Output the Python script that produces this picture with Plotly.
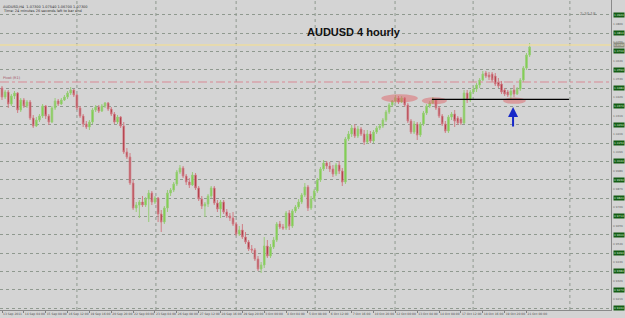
import plotly.graph_objects as go

# ---- data (AUDUSD, H4) ----
open_ = [1.0484,1.0430,1.0460,1.0388,1.0436,1.0454,1.0352,1.0412,1.0376,1.0400,
         1.0304,1.0256,1.0292,1.0316,1.0376,1.0316,1.0280,1.0364,1.0406,1.0388,
         1.0412,1.0430,1.0454,1.0472,1.0442,1.0364,1.0316,1.0268,1.0250,1.0280,
         1.0352,1.0370,1.0346,1.0376,1.0394,1.0358,1.0328,1.0280,1.0310,1.0256,
         1.0100,1.0070,0.9914,0.9764,0.9782,0.9800,0.9782,0.9818,0.9854,0.9800,
         0.9824,0.9728,0.9680,0.9764,0.9854,0.9872,0.9908,0.9980,1.0004,0.9956,
         0.9920,0.9902,0.9962,0.9884,0.9818,0.9776,0.9788,0.9836,0.9884,0.9794,
         0.9758,0.9800,0.9740,0.9716,0.9704,0.9668,0.9608,0.9632,0.9590,0.9560,
         0.9518,0.9512,0.9458,0.9398,0.9422,0.9536,0.9476,0.9530,0.9572,0.9668,
         0.9650,0.9644,0.9734,0.9656,0.9746,0.9770,0.9800,0.9842,0.9890,0.9764,
         0.9818,0.9866,0.9932,0.9998,1.0034,1.0016,0.9998,0.9968,1.0022,0.9986,
         0.9920,1.0178,1.0208,1.0244,1.0196,1.0238,1.0208,1.0160,1.0208,1.0166,
         1.0220,1.0244,1.0256,1.0292,1.0340,1.0382,1.0406,1.0424,1.0400,1.0424,
         1.0382,1.0286,1.0220,1.0268,1.0202,1.0268,1.0334,1.0376,1.0394,1.0412,
         1.0364,1.0316,1.0268,1.0226,1.0310,1.0328,1.0304,1.0298,1.0274,1.0454,
         1.0412,1.0460,1.0478,1.0502,1.0532,1.0574,1.0562,1.0568,1.0556,1.0520,
         1.0508,1.0472,1.0460,1.0442,1.0472,1.0448,1.0478,1.0532,1.0604,1.0682]
high = [1.0496,1.0472,1.0472,1.0448,1.0466,1.0460,1.0424,1.0424,1.0412,1.0412,
        1.0322,1.0310,1.0328,1.0388,1.0382,1.0328,1.0376,1.0424,1.0418,1.0424,
        1.0442,1.0466,1.0490,1.0478,1.0448,1.0376,1.0328,1.0286,1.0292,1.0364,
        1.0382,1.0382,1.0388,1.0400,1.0400,1.0370,1.0340,1.0322,1.0316,1.0280,
        1.0124,1.0094,0.9932,0.9800,0.9812,0.9836,0.9830,0.9872,0.9866,0.9836,
        0.9830,0.9752,0.9776,0.9872,0.9884,0.9920,0.9992,1.0022,1.0016,0.9968,
        0.9944,0.9980,0.9974,0.9896,0.9836,0.9800,0.9848,0.9896,0.9896,0.9812,
        0.9812,0.9812,0.9758,0.9734,0.9740,0.9680,0.9656,0.9668,0.9620,0.9572,
        0.9542,0.9524,0.9476,0.9440,0.9590,0.9572,0.9548,0.9590,0.9680,0.9686,
        0.9668,0.9746,0.9752,0.9758,0.9782,0.9818,0.9854,0.9914,0.9902,0.9836,
        0.9878,0.9944,1.0010,1.0052,1.0046,1.0040,1.0022,1.0034,1.0046,1.0004,
        1.0190,1.0226,1.0262,1.0268,1.0256,1.0250,1.0232,1.0232,1.0226,1.0232,
        1.0256,1.0268,1.0304,1.0352,1.0394,1.0412,1.0442,1.0436,1.0436,1.0430,
        1.0394,1.0298,1.0286,1.0280,1.0280,1.0346,1.0388,1.0406,1.0430,1.0418,
        1.0376,1.0328,1.0286,1.0322,1.0340,1.0352,1.0316,1.0310,1.0472,1.0472,
        1.0472,1.0496,1.0514,1.0544,1.0586,1.0586,1.0580,1.0580,1.0574,1.0544,
        1.0526,1.0484,1.0472,1.0478,1.0502,1.0490,1.0544,1.0616,1.0694,1.0754]
low = [1.0412,1.0418,1.0364,1.0376,1.0418,1.0334,1.0340,1.0364,1.0364,1.0292,
       1.0244,1.0250,1.0280,1.0304,1.0298,1.0262,1.0274,1.0352,1.0376,1.0382,
       1.0406,1.0418,1.0442,1.0430,1.0352,1.0304,1.0250,1.0238,1.0232,1.0268,
       1.0340,1.0334,1.0340,1.0364,1.0346,1.0316,1.0268,1.0268,1.0244,1.0088,
       1.0058,0.9902,0.9752,0.9740,0.9704,0.9770,0.9770,0.9680,0.9782,0.9788,
       0.9680,0.9620,0.9668,0.9740,0.9836,0.9860,0.9896,0.9968,0.9944,0.9902,
       0.9884,0.9896,0.9872,0.9806,0.9758,0.9710,0.9770,0.9824,0.9782,0.9740,
       0.9704,0.9728,0.9704,0.9686,0.9656,0.9596,0.9596,0.9578,0.9548,0.9506,
       0.9494,0.9446,0.9386,0.9374,0.9404,0.9464,0.9464,0.9518,0.9560,0.9638,
       0.9632,0.9632,0.9632,0.9644,0.9734,0.9758,0.9788,0.9830,0.9746,0.9752,
       0.9806,0.9854,0.9920,0.9986,0.9998,0.9980,0.9950,0.9956,0.9968,0.9896,
       0.9908,1.0166,1.0190,1.0184,1.0184,1.0196,1.0142,1.0148,1.0154,1.0154,
       1.0208,1.0232,1.0244,1.0280,1.0328,1.0370,1.0394,1.0388,1.0394,1.0370,
       1.0274,1.0208,1.0208,1.0172,1.0190,1.0256,1.0322,1.0364,1.0388,1.0352,
       1.0304,1.0256,1.0214,1.0214,1.0292,1.0250,1.0262,1.0262,1.0268,1.0394,
       1.0400,1.0448,1.0460,1.0484,1.0526,1.0544,1.0532,1.0520,1.0496,1.0484,
       1.0448,1.0436,1.0430,1.0412,1.0430,1.0442,1.0466,1.0520,1.0592,1.0670]
close = [1.0430,1.0460,1.0388,1.0436,1.0454,1.0352,1.0412,1.0376,1.0400,1.0304,
         1.0256,1.0292,1.0316,1.0376,1.0316,1.0280,1.0364,1.0406,1.0388,1.0412,
         1.0430,1.0454,1.0472,1.0442,1.0364,1.0316,1.0268,1.0250,1.0280,1.0352,
         1.0370,1.0346,1.0376,1.0394,1.0358,1.0328,1.0280,1.0310,1.0256,1.0100,
         1.0070,0.9914,0.9764,0.9782,0.9800,0.9782,0.9818,0.9854,0.9800,0.9824,
         0.9728,0.9680,0.9764,0.9854,0.9872,0.9908,0.9980,1.0004,0.9956,0.9920,
         0.9902,0.9962,0.9884,0.9818,0.9776,0.9788,0.9836,0.9884,0.9794,0.9758,
         0.9800,0.9740,0.9716,0.9704,0.9668,0.9608,0.9632,0.9590,0.9560,0.9518,
         0.9512,0.9458,0.9398,0.9422,0.9536,0.9476,0.9530,0.9572,0.9668,0.9650,
         0.9644,0.9734,0.9656,0.9746,0.9770,0.9800,0.9842,0.9890,0.9764,0.9818,
         0.9866,0.9932,0.9998,1.0034,1.0016,0.9998,0.9968,1.0022,0.9986,0.9920,
         1.0178,1.0208,1.0244,1.0196,1.0238,1.0208,1.0160,1.0208,1.0166,1.0220,
         1.0244,1.0256,1.0292,1.0340,1.0382,1.0406,1.0424,1.0400,1.0424,1.0382,
         1.0286,1.0220,1.0268,1.0202,1.0268,1.0334,1.0376,1.0394,1.0412,1.0364,
         1.0316,1.0268,1.0226,1.0310,1.0328,1.0286,1.0274,1.0274,1.0454,1.0412,
         1.0460,1.0478,1.0502,1.0532,1.0568,1.0556,1.0550,1.0532,1.0508,1.0496,
         1.0460,1.0448,1.0442,1.0466,1.0448,1.0478,1.0532,1.0604,1.0682,1.0730]
bars = list(range(len(close)))

time_tick_bars = [0, 7, 14, 21, 28, 35, 42, 49, 56, 63, 70, 77, 84, 91, 98,
                  105, 112, 119, 126, 133, 140, 147, 154, 161, 168]
time_tick_text = ["13 Sep 2011", "14 Sep 04:00", "15 Sep 08:00", "16 Sep 12:00",
                  "19 Sep 16:00", "20 Sep 20:00", "22 Sep 00:00", "23 Sep 04:00",
                  "26 Sep 08:00", "27 Sep 12:00", "28 Sep 16:00", "29 Sep 20:00",
                  "3 Oct 00:00", "4 Oct 04:00", "5 Oct 08:00", "6 Oct 12:00",
                  "7 Oct 16:00", "10 Oct 20:00", "12 Oct 00:00", "13 Oct 04:00",
                  "14 Oct 08:00", "17 Oct 12:00", "18 Oct 16:00", "19 Oct 20:00",
                  "21 Oct 00:00"]

grid_prices = [1.0924, 1.0814, 1.0704, 1.0594, 1.0484, 1.0374, 1.0264, 1.0154,
               1.0044, 0.9934, 0.9824, 0.9714, 0.9604, 0.9494, 0.9384, 0.9274, 0.9164]
vgrid_bars = [24.0, 49.3, 75.0, 100.3, 125.9, 150.9, 181.9]

yellow_level = 1.0742
pink_level = 1.0520
support_level = 1.0416
support_from, support_to = 137.7, 181.6
highlight_zones = [(121.5, 133.2, 1.0398, 1.0446),
                   (134.5, 142.5, 1.0386, 1.0428),
                   (160.5, 167.8, 1.0389, 1.0427)]
arrow_bar, arrow_from, arrow_to = 163.7, 1.0244, 1.0370

BG = "#d4d4d4"
GRID = "#8f998f"
AX_FONT = dict(family="DejaVu Sans", size=3, color="#505050")

fig = go.Figure()
fig.add_trace(go.Candlestick(
    x=bars, open=open_, high=high, low=low, close=close,
    increasing=dict(fillcolor="#74d13a", line=dict(color="#98cc78", width=1)),
    decreasing=dict(fillcolor="#9c1422", line=dict(color="#d07e86", width=1)),
    whiskerwidth=0, hoverinfo="skip", showlegend=False))

shapes = []
for xv in vgrid_bars:
    shapes.append(dict(type="line", xref="x", yref="paper", x0=xv, x1=xv, y0=0, y1=1,
                       line=dict(color=GRID, width=1, dash="dot"), layer="below"))
shapes.append(dict(type="line", xref="paper", yref="y", x0=0, x1=1,
                   y0=yellow_level, y1=yellow_level,
                   line=dict(color="#ecdca2", width=1.5)))
shapes.append(dict(type="line", xref="paper", yref="y", x0=0, x1=1,
                   y0=pink_level, y1=pink_level,
                   line=dict(color="#d98a95", width=1, dash="dashdot")))
for (x0, x1, y0, y1) in highlight_zones:
    shapes.append(dict(type="circle", xref="x", yref="y", x0=x0, x1=x1, y0=y0, y1=y1,
                       fillcolor="rgba(222,100,104,0.5)", line=dict(width=0), layer="above"))
shapes.append(dict(type="line", xref="x", yref="y", x0=support_from, x1=support_to,
                   y0=support_level, y1=support_level, line=dict(color="#000000", width=1.2)))

annotations = []
annotations.append(dict(x=arrow_bar, y=arrow_to, ax=arrow_bar, ay=arrow_from,
                        xref="x", yref="y", axref="x", ayref="y", text="",
                        showarrow=True, arrowhead=2, arrowsize=1, arrowwidth=2,
                        arrowcolor="#1628c8"))
annotations.append(dict(x=354/611, y=1-24/310, xref="paper", yref="paper",
                        text="<b>AUDUSD 4 hourly</b>", showarrow=False,
                        font=dict(family="Liberation Sans, Arial", size=11, color="#111111")))
annotations.append(dict(x=0.001, y=1-2.5/310, xref="paper", yref="paper", xanchor="left",
                        text="AUDUSD,H4  1.07300 1.07540 1.06700 1.07300", showarrow=False,
                        font=dict(family="DejaVu Sans", size=3.5, color="#303030")))
annotations.append(dict(x=0.001, y=1-6.8/310, xref="paper", yref="paper", xanchor="left",
                        text="Time: 24 minutes 26 seconds left to bar end", showarrow=False,
                        font=dict(family="DejaVu Sans", size=3.5, color="#303030")))
annotations.append(dict(x=0.001, y=pink_level, xref="paper", yref="y", xanchor="left",
                        yanchor="bottom", text="Pivot (R1)", showarrow=False,
                        font=dict(family="DejaVu Sans", size=3.5, color="#a05060")))
annotations.append(dict(x=598/611, y=1-9/310, xref="paper", yref="paper",
                        text="2:34:18", showarrow=False,
                        font=dict(family="DejaVu Sans", size=4, color="#707070")))
for p in grid_prices:
    annotations.append(dict(x=1, y=p, xref="paper", yref="y", xanchor="right", xshift=14,
                            text=f"{p:.4f}", showarrow=False, bgcolor="#145c14", borderpad=0,
                            font=dict(family="DejaVu Sans", size=2.8, color="#d8ecd8")))
for a, b in zip(grid_prices[:-1], grid_prices[1:]):
    m = (a + b) / 2
    annotations.append(dict(x=1, y=m, xref="paper", yref="y", xanchor="right", xshift=14,
                            text=f"{m:.4f}", showarrow=False,
                            font=dict(family="DejaVu Sans", size=2.8, color="#666666")))
annotations.append(dict(x=1, y=yellow_level, xref="paper", yref="y", xanchor="right", xshift=14,
                        text=f"{yellow_level:.4f}", showarrow=False, bgcolor="#8e8e80",
                        borderpad=0, font=dict(family="DejaVu Sans", size=2.8, color="#f0f0e0")))

fig.update_layout(
    width=625, height=318,
    margin=dict(l=0, r=14, t=0, b=8),
    paper_bgcolor=BG, plot_bgcolor=BG,
    shapes=shapes, annotations=annotations,
    xaxis=dict(range=[-0.64, 195.07], rangeslider=dict(visible=False),
               showgrid=False, zeroline=False,
               tickmode="array", tickvals=time_tick_bars, ticktext=time_tick_text,
               ticklabelposition="outside right", tickangle=0,
               tickfont=AX_FONT,
               ticks="outside", ticklen=2, tickcolor="#808080",
               showline=True, linecolor="#8a8a8a", linewidth=1),
    yaxis=dict(range=[0.9152, 1.1012], side="right",
               tickmode="array", tickvals=grid_prices, showticklabels=False,
               showgrid=True, gridcolor=GRID, griddash="dot", gridwidth=1,
               zeroline=False, ticks="",
               showline=True, linecolor="#8a8a8a", linewidth=1),
)

fig.write_html("out.html")
